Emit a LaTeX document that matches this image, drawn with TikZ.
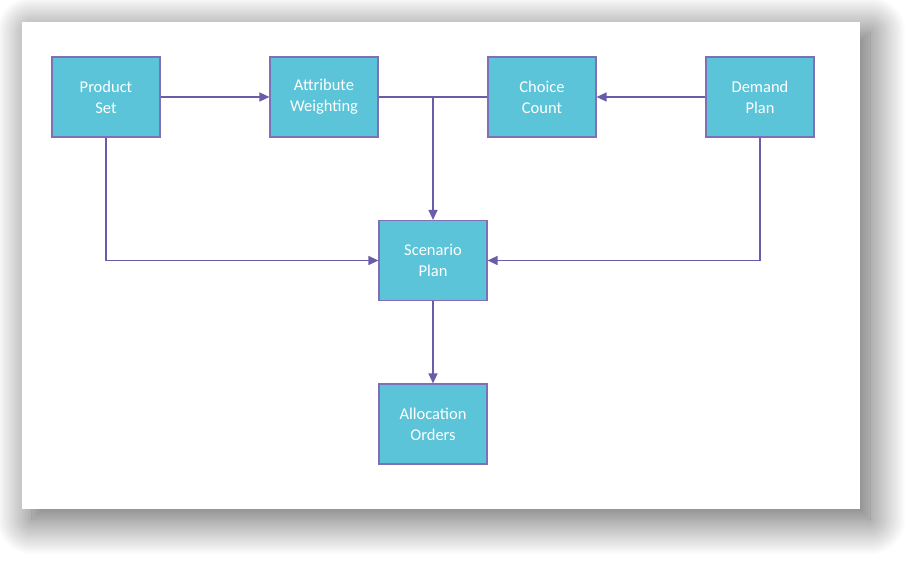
\documentclass[tikz,border=0pt]{standalone}
\usepackage{fontspec}
\setmainfont{Carlito}
\usetikzlibrary{positioning, arrows.meta, shadows.blur}
\definecolor{boxfill}{HTML}{5BC4D8}
\definecolor{boxline}{HTML}{7F6FB5}
\definecolor{linkline}{HTML}{6B5BA8}
\tikzset{
>={Triangle[length=10pt,width=9pt]}, % filled arrow heads
}
\tikzstyle{block} = [rectangle, draw=boxline, line width=1.2pt, fill=boxfill, text=white,
    minimum width=108pt, minimum height=80pt, text width=100pt, align=center,
    font=\fontsize{16.5}{21}\selectfont]
\tikzstyle{line} = [draw=linkline, line width=1.4pt, ->]
\tikzstyle{plain} = [draw=linkline, line width=1.4pt]
\tikzstyle{card} = [fill=white, blur shadow={shadow xshift=10pt, shadow yshift=-10pt,
    shadow blur radius=36pt, shadow blur steps=40, shadow opacity=65}]
\begin{document}
\begin{tikzpicture}[x=1pt, y=-1pt, node distance=218pt]
\useasboundingbox (0,0) rectangle (915,564);
\path [card] (22,22) rectangle (860,509);

\node [block] (prod) at (106,97) {Product\\Set};
\node [block, right of=prod] (attr) {Attribute\\Weighting};
\node [block, right of=attr] (choice) {Choice\\Count};
\node [block, right of=choice] (demand) {Demand\\Plan};
\node [block] (scen) at (433,260.5) {Scenario\\Plan};
\node [block, below of=scen, node distance=163.5pt] (alloc) {Allocation\\Orders};
\coordinate (junc) at (scen.north |- attr.east);

  \path [line] (prod) -- (attr);
  \path [line] (demand) -- (choice);
  \path [plain] (attr) -- (choice);
  \path [line] (junc) -- (scen);
  \path [line] (prod) |- (scen);
  \path [line] (demand) |- (scen);
  \path [line] (scen) -- (alloc);

\end{tikzpicture}
\end{document}
